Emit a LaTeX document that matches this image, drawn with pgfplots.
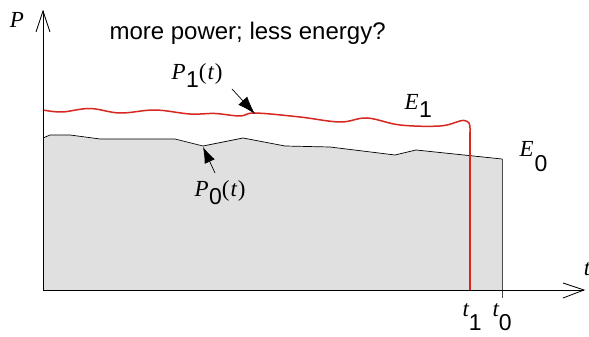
\documentclass[border=0pt]{standalone}
\usepackage{pgfplots}
\pgfplotsset{compat=1.18}
\usepackage{fontspec}
\setmainfont{Liberation Serif}
\newfontfamily\hv{Liberation Sans}
\usetikzlibrary{arrows.meta}
\definecolor{fillgray}{RGB}{224,224,224}
\definecolor{redline}{RGB}{214,40,32}
\newcommand{\lab}[2]{{\itshape #1}\kern0.5pt\raisebox{-0.35em}{\hv #2}}
\begin{document}
\begin{tikzpicture}
\begin{axis}[x=1pt,y=1pt,xmin=0,xmax=589,ymin=0,ymax=337,hide axis,clip=false,scale only axis]
% P0 area
\addplot[draw=none,fill=fillgray] coordinates {(43,47)(43,199)(50,202)(70,202)(100,198)(175,198)(203,191)(243,199)(285,191)(330,190)(395,182)(416,187)(502,178)(502,47)} -- cycle;
\addplot[black,line width=0.7pt] coordinates {(43,199)(50,202)(70,202)(100,198)(175,198)(203,191)(243,199)(285,191)(330,190)(395,182)(416,187)(502,178)};
\addplot[black!70,line width=0.9pt] coordinates {(502,178)(502,39)};
% P1 red
\addplot[redline,line width=1.5pt,smooth,tension=0.6] coordinates {(43,227)(62,225)(90,228.5)(120,224)(155,227)(190,223)(215,223.5)(240,221)(255,224)(300,220)(340,215)(367,219)(400,212)(440,211)(460,216)(465,216.3)(469,214)(470,209)(470,205)};
\addplot[redline,line width=1.5pt] coordinates {(470,205)(470,47)};
% axes
\addplot[black,line width=0.8pt] coordinates {(43,47)(43,326)};
\addplot[black,line width=0.8pt] coordinates {(36,305)(43,326)(50,305)};
\addplot[black,line width=0.8pt] coordinates {(43,47)(584,47)};
\addplot[black,line width=0.8pt] coordinates {(563,54)(584,47)(563,39)};
% annotation arrows
\draw[line width=0.7pt,-{Latex[length=18pt,width=12pt]}] (axis cs:232,248) -- (axis cs:255,223);
\draw[line width=0.7pt,-{Latex[length=16pt,width=11pt]}] (axis cs:215,164) -- (axis cs:203,190);
% labels
\node[font=\fontsize{23}{24}\selectfont\itshape] at (axis cs:17,317) {P};
\node[font=\fontsize{23}{24}\selectfont\itshape] at (axis cs:587,68) {t};
\node[font=\hv\fontsize{24}{26}\selectfont,anchor=west] at (axis cs:106,304) {more power; less energy?};
\node[font=\fontsize{23}{24}\selectfont,anchor=west] at (axis cs:168,261) {\lab{P}{1}(\kern1pt{\itshape t}\kern1pt)};
\node[font=\fontsize{23}{24}\selectfont,anchor=west] at (axis cs:191,144) {\lab{P}{0}(\kern1pt{\itshape t}\kern1pt)};
\node[font=\fontsize{23}{24}\selectfont,anchor=west] at (axis cs:401,231) {\lab{E}{1}};
\node[font=\fontsize{23}{24}\selectfont,anchor=west] at (axis cs:516,180) {{\itshape E}\kern1pt\raisebox{-0.65em}{\hv 0}};
\node[font=\fontsize{23}{24}\selectfont,anchor=west] at (axis cs:459,20) {{\itshape t}\raisebox{-0.6em}{\hv 1}};
\node[font=\fontsize{23}{24}\selectfont,anchor=west] at (axis cs:489,20) {{\itshape t}\raisebox{-0.6em}{\hv 0}};
\end{axis}
\pgfresetboundingbox
\path (0,0) rectangle (589pt,337pt);
\end{tikzpicture}
\end{document}
